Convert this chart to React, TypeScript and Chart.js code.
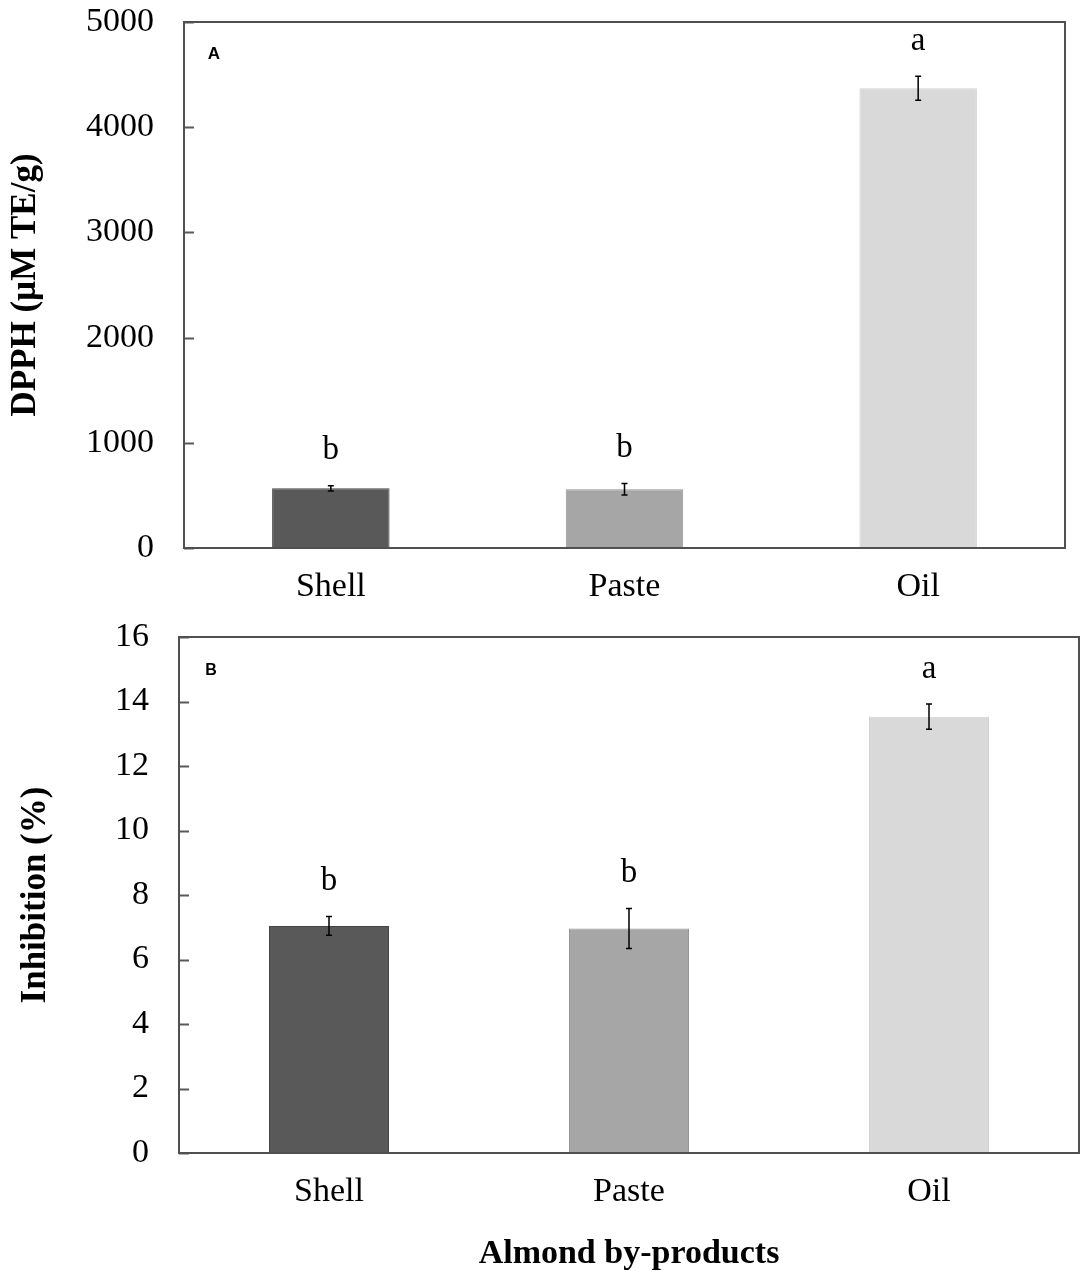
import { useRef, useEffect } from 'react';
import { Chart, registerables } from 'chart.js';

Chart.register(...registerables);

const categories = ['Shell', 'Paste', 'Oil'];
const barColors = ['#595959', '#a6a6a6', '#d9d9d9'];
const barBorders = ['#454545', '#969696', '#d2d2d2'];

// panel A
const dpphValues = [567, 558, 4370];
const dpphErrors = [24, 55, 114];
const dpphLetters = ['b', 'b', 'a'];
const dpphTicks = { min: 0, max: 5000, step: 1000 };

// panel B
const inhibitionValues = [7.04, 6.96, 13.53];
const inhibitionErrors = [0.29, 0.62, 0.39];
const inhibitionLetters = ['b', 'b', 'a'];
const inhibitionTicks = { min: 0, max: 16, step: 2 };

const SERIF = '"Liberation Serif", "Times New Roman", serif';
const SANS = '"Liberation Sans", Arial, sans-serif';

type PanelProps = {
  top: number,
  height: number,
  values: number[],
  errors: number[],
  letters: string[],
  ticks: { min: number, max: number, step: number },
  yTitle: string,
  yTitlePad: number,
  xTitle?: string,
  panelLabel: string,
  labelPos: [number, number],
  labelSize: number,
  area: { left: number, right: number, top: number, bottom: number },
}

function Panel(props: PanelProps) {
  const canvasRef = useRef<HTMLCanvasElement>(null);

  useEffect(() => {
    const canvas = canvasRef.current;
    if (!canvas) return;
    const ctx = canvas.getContext('2d');
    if (!ctx) return;
    const { values, errors, letters, ticks, area } = props;

    // box, inward y ticks, error bars, letters and panel label
    const extras = {
      id: 'extras',
      afterDatasetsDraw(chart: any) {
        const c = chart.ctx;
        const { left, right, top, bottom } = chart.chartArea;
        const x = chart.scales.x;
        const y = chart.scales.y;
        c.save();
        // y ticks pointing inward
        c.strokeStyle = '#595959';
        c.lineWidth = 2;
        y.ticks.forEach((_t: any, i: number) => {
          const py = Math.round(y.getPixelForTick(i)) + 0.5;
          c.beginPath();
          c.moveTo(left, py);
          c.lineTo(left + 10, py);
          c.stroke();
        });
        // frame
        c.strokeStyle = '#505050';
        c.lineWidth = 2;
        c.strokeRect(left, top, right - left, bottom - top);
        // error bars
        c.strokeStyle = '#000';
        c.lineWidth = 1.5;
        values.forEach((v, i) => {
          const px = x.getPixelForValue(i);
          const hi = y.getPixelForValue(v + errors[i]);
          const lo = y.getPixelForValue(v - errors[i]);
          c.beginPath();
          c.moveTo(px, hi);
          c.lineTo(px, lo);
          c.moveTo(px - 3, hi);
          c.lineTo(px + 3, hi);
          c.moveTo(px - 3, lo);
          c.lineTo(px + 3, lo);
          c.stroke();
          // significance letter
          c.fillStyle = '#000';
          c.font = '33px ' + SERIF;
          c.textAlign = 'center';
          c.textBaseline = 'middle';
          c.fillText(letters[i], px, hi - 35);
        });
        // panel label
        c.font = 'bold ' + props.labelSize + 'px ' + SANS;
        c.textAlign = 'center';
        c.textBaseline = 'middle';
        c.fillText(props.panelLabel, props.labelPos[0], props.labelPos[1]);
        c.restore();
      }
    };

    const chart = new Chart(ctx, {
      type: 'bar',
      data: {
        labels: categories,
        datasets: [{
          data: values,
          backgroundColor: barColors,
          borderColor: barBorders,
          borderWidth: 1,
          barPercentage: 0.4,
          categoryPercentage: 1,
        }]
      },
      options: {
        animation: false,
        responsive: false,
        devicePixelRatio: 1,
        layout: {
          padding: { left: 0, top: area.top, right: 1084 - area.right, bottom: 0 }
        },
        plugins: {
          legend: { display: false },
          tooltip: { enabled: false },
        },
        scales: {
          x: {
            grid: { display: false, drawTicks: false },
            border: { display: false },
            ticks: {
              color: '#000',
              padding: 19,
              font: { family: SERIF, size: 34 },
            },
            title: props.xTitle ? {
              display: true,
              text: props.xTitle,
              color: '#000',
              padding: { top: 0, bottom: 1 },
              font: { family: SERIF, size: 34, weight: 'bold' },
            } : { display: false },
            afterFit: (scale: any) => {
              scale.height = props.height - area.bottom;
              scale.paddingLeft = 0;
              scale.paddingRight = 0;
            },
          },
          y: {
            min: ticks.min,
            max: ticks.max,
            grid: { display: false, drawTicks: false },
            border: { display: false },
            ticks: {
              stepSize: ticks.step,
              color: '#000',
              padding: 30,
              font: { family: SERIF, size: 34 },
              callback: (v: any) => String(v),
            },
            title: {
              display: true,
              text: props.yTitle,
              color: '#000',
              padding: { top: props.yTitlePad, bottom: 0 },
              font: { family: SERIF, size: 35, weight: 'bold' },
            },
            afterFit: (scale: any) => {
              scale.width = area.left;
              scale.paddingTop = 0;
              scale.paddingBottom = 0;
            },
          }
        }
      },
      plugins: [extras]
    });
    return () => {
      chart.destroy();
    };
  }, [props]);

  return (
    <canvas
      ref={canvasRef}
      width={1084}
      height={props.height}
      style={{ position: 'absolute', left: 0, top: props.top, width: 1084, height: props.height }}
    />
  );
}

const panelA: PanelProps = {
  top: 0,
  height: 620,
  values: dpphValues,
  errors: dpphErrors,
  letters: dpphLetters,
  ticks: dpphTicks,
  yTitle: 'DPPH (µM TE/g)',
  yTitlePad: 5,
  panelLabel: 'A',
  labelPos: [214, 54],
  labelSize: 17,
  area: { left: 184, right: 1065, top: 22, bottom: 548 },
};

const panelB: PanelProps = {
  top: 620,
  height: 656,
  values: inhibitionValues,
  errors: inhibitionErrors,
  letters: inhibitionLetters,
  ticks: inhibitionTicks,
  yTitle: 'Inhibition (%)',
  yTitlePad: 15,
  xTitle: 'Almond by-products',
  panelLabel: 'B',
  labelPos: [211, 51],
  labelSize: 16,
  area: { left: 179, right: 1079, top: 17, bottom: 533 },
};

export default function App() {
  return (
    <div style={{ position: 'absolute', left: 0, top: 0, width: 1084, height: 1276, background: '#fff' }}>
      <Panel {...panelA} />
      <Panel {...panelB} />
    </div>
  );
}
